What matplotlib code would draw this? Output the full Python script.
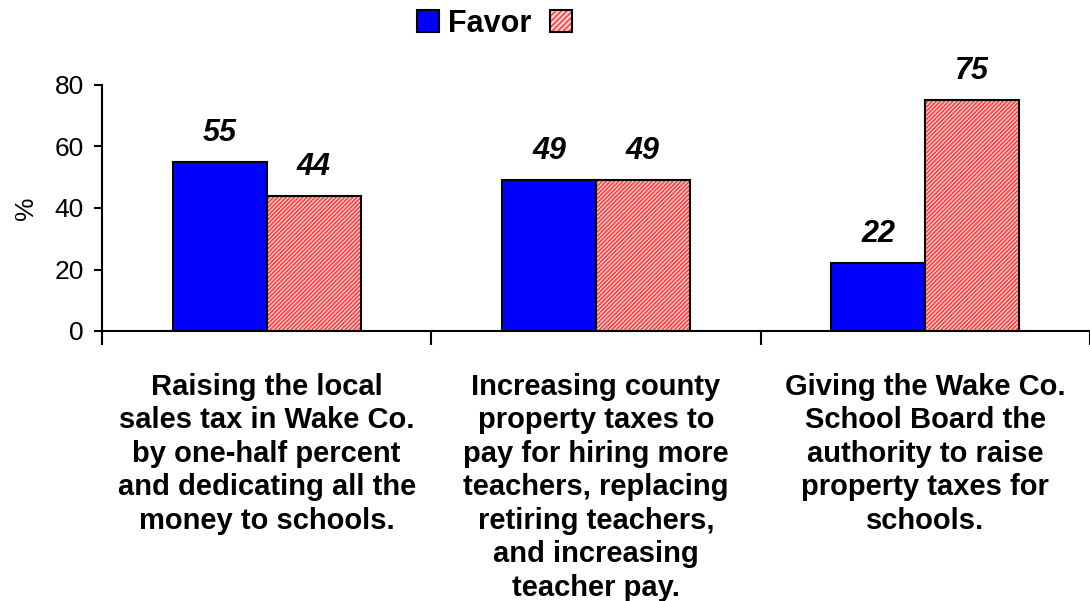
import matplotlib
matplotlib.use("Agg")
import matplotlib.pyplot as plt
from matplotlib.patches import Patch
import numpy as np

plt.rcParams['font.family'] = ['Liberation Sans', 'DejaVu Sans']
plt.rcParams['hatch.linewidth'] = 1.2

categories = [
    "Raising the local\nsales tax in Wake Co.\nby one-half percent\nand dedicating all the\nmoney to schools.",
    "Increasing county\nproperty taxes to\npay for hiring more\nteachers, replacing\nretiring teachers,\nand increasing\nteacher pay.",
    "Giving the Wake Co.\nSchool Board the\nauthority to raise\nproperty taxes for\nschools.",
]
favor = [55, 49, 22]
oppose = [44, 49, 75]
series_labels = ["Favor", ""]
y_ticks = [0, 20, 40, 60, 80]

PINK_FACE = "#FFD6D6"
PINK_HATCH = "#FF4040"
BLUE = "#0000FF"

fig = plt.figure(figsize=(10.9, 6.01), dpi=100)
ax = fig.add_axes([102 / 1090, 1 - 331 / 601, 988 / 1090, (331 - 85) / 601])

x = np.arange(len(categories))
w = 0.285
ax.bar(x - w / 2, favor, w, color=BLUE, edgecolor="black", linewidth=1.5)
ax.bar(x + w / 2, oppose, w, facecolor=PINK_FACE, edgecolor=PINK_HATCH, linewidth=0,
       hatch="////////")
# black outlines drawn over the hatched bars
ax.bar(x + w / 2, oppose, w, facecolor="none", edgecolor="black", linewidth=1.5)

for xs, vals in ((x - w / 2, favor), (x + w / 2, oppose)):
    for xi, v in zip(xs, vals):
        ax.text(xi, v + 6.8, str(v), ha="center", va="baseline", fontsize=22,
                fontweight="bold", fontstyle="italic")

ax.set_xlim(-0.5, 2.5)
ax.set_ylim(0, 80)
ax.set_yticks(y_ticks)
ax.set_yticklabels([str(t) for t in y_ticks], fontsize=19)
ax.set_ylabel("%", fontsize=19, labelpad=12)

ax.set_xticks([-0.5, 0.5, 1.5, 2.5])
ax.set_xticklabels([])
ax.tick_params(axis="x", direction="out", length=10, width=1.5)
ax.tick_params(axis="y", direction="out", length=6, width=1.5, pad=7)

for i, c in enumerate(categories):
    ax.text(i, -13.5, c, ha="center", va="top", fontsize=21, fontweight="bold",
            linespacing=1.25)

for s in ["top", "right"]:
    ax.spines[s].set_visible(False)
for s in ["left", "bottom"]:
    ax.spines[s].set_linewidth(1.5)

h1 = Patch(facecolor=BLUE, edgecolor="black", linewidth=1.5)
h2 = (Patch(facecolor=PINK_FACE, edgecolor=PINK_HATCH, hatch="//////", linewidth=0),
      Patch(facecolor="none", edgecolor="black", linewidth=1.5))
leg = fig.legend(handles=[h1, h2], labels=series_labels, loc="center",
                 bbox_to_anchor=(499 / 1090, 1 - 24 / 601), ncol=2, frameon=False,
                 prop={"weight": "bold", "size": 22}, handlelength=0.72,
                 handleheight=0.72, handletextpad=0.3, columnspacing=0.6)

fig.savefig("out.png", dpi=100)
